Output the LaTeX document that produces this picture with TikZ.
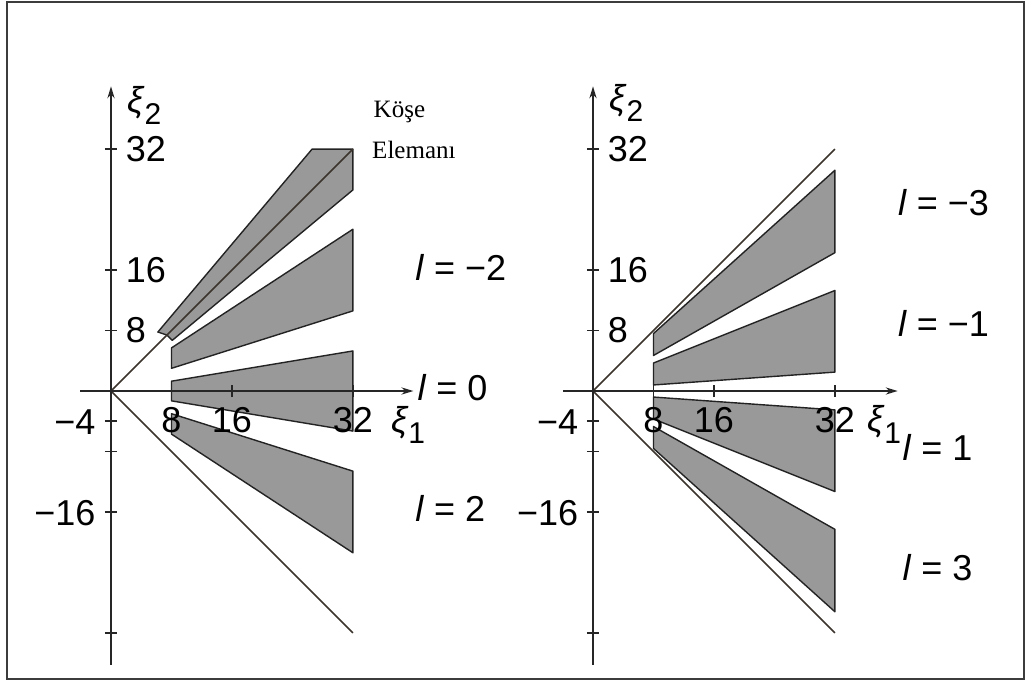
\documentclass[tikz,border=0pt]{standalone}
\usepackage{fontspec}
\setmainfont{Liberation Sans}
\newfontfamily\serifface{Liberation Serif}
\usetikzlibrary{arrows.meta}
\definecolor{wedgegray}{RGB}{153, 153, 153}
\definecolor{edgedark}{RGB}{35, 35, 35}
\definecolor{conecolor}{RGB}{60, 52, 44}
\definecolor{framegray}{RGB}{60, 60, 60}

\newcommand{\xisub}[1]{\textit{ξ}\raisebox{-0.32em}{\fontsize{15}{15}\selectfont #1}}

\tikzset{
  wedge/.style={fill=wedgegray, draw=edgedark, line width=0.7pt, line join=round},
  cone/.style={draw=conecolor, line width=0.8pt},
  axis/.style={draw=black!85, line width=0.75pt},
  numlabel/.style={font=\fontsize{18}{18}\selectfont, inner sep=0pt},
  llabel/.style={font=\fontsize{18}{18}\selectfont, anchor=west, inner sep=0pt},
  notelabel/.style={font=\serifface\fontsize{12.5}{12.5}\selectfont, anchor=base west, inner sep=0pt}
}

\begin{document}
\begin{tikzpicture}[x=0.5pt, y=0.5pt, >={Stealth[length=6pt, width=3.6pt]}]

  \useasboundingbox (0,0) rectangle (1027,682);
  \draw[framegray, line width=1.2pt] (7,3) rectangle (1024,680);

  % --- Left panel ---
  \begin{scope}[shift={(111,291)}, x=3.78pt, y=3.78pt]
    % wedges
    \filldraw[wedge] (6.2,7.8) -- (26.6,32) -- (32,32) -- (32,26.6) -- (8.1,6.7) -- (7.4,7.4) -- cycle;
    \filldraw[wedge] (8,5.7) -- (32,21.4) -- (32,10.6) -- (8,3.0) -- cycle;
    \filldraw[wedge] (8,1.3) -- (32,5.3) -- (32,-5.3) -- (8,-1.3) -- cycle;
    \filldraw[wedge] (8,-3.0) -- (32,-10.6) -- (32,-21.4) -- (8,-5.7) -- cycle;

    % cone lines
    \draw[cone] (0,0) -- (32,32);
    \draw[cone] (0,0) -- (32,-32);

    % axes
    \draw[axis, ->] (-4.1,0) -- (40,0);
    \draw[axis, ->] (0,-36.2) -- (0,40.3);
    \foreach \t in {8,16,32}
      \draw[axis] (\t,-0.8) -- (\t,0.8);
    \foreach \t in {32,16,8,-4,-8,-16,-32}
      \draw[axis] (-0.8,\t) -- (0.8,\t);

    % tick labels
    \foreach \t in {8,16,32} {
      \node[numlabel, anchor=west] (L-y\t) at (1.9,\t) {\t};
      \node[numlabel] (L-x\t) at (\t,-3.85) {\t};
    }
    \node[numlabel, anchor=east] (L-ym4) at (-2,-4.1) {−4};
    \node[numlabel, anchor=east] (L-ym16) at (-2,-16.1) {−16};

    % axis names
    \node[numlabel] (L-xi1) at (39.3,-4.5) {\xisub{1}};
    \node[numlabel] (L-xi2) at (4.4,37.8) {\xisub{2}};

    % band labels
    \node[llabel] (L-lm2) at (40.2,16.4) {\textit{l} = −2};
    \node[llabel] (L-l0) at (40.5,0.5) {\textit{l} = 0};
    \node[llabel] (L-l2) at (40.2,-15.5) {\textit{l} = 2};

    % corner element note
    \node[notelabel] (L-kose) at (34.7,36.2) {Köşe};
    \node[notelabel] (L-eleman) at (34.5,30.7) {Elemanı};
  \end{scope}

  % --- Right panel ---
  \begin{scope}[shift={(593,291)}, x=3.78pt, y=3.78pt]
    % wedges
    \filldraw[wedge] (8,7.6) -- (32,29.2) -- (32,18.3) -- (8,4.7) -- cycle;
    \filldraw[wedge] (8,3.7) -- (32,13.3) -- (32,2.5) -- (8,0.8) -- cycle;
    \filldraw[wedge] (8,-0.8) -- (32,-2.5) -- (32,-13.3) -- (8,-3.7) -- cycle;
    \filldraw[wedge] (8,-4.7) -- (32,-18.3) -- (32,-29.2) -- (8,-7.6) -- cycle;

    % cone lines
    \draw[cone] (0,0) -- (32,32);
    \draw[cone] (0,0) -- (32,-32);

    % axes
    \draw[axis, ->] (-4,0) -- (40.3,0);
    \draw[axis, ->] (0,-36.2) -- (0,40.3);
    \foreach \t in {8,16,32}
      \draw[axis] (\t,-0.8) -- (\t,0.8);
    \foreach \t in {32,16,8,-4,-8,-16,-32}
      \draw[axis] (-0.8,\t) -- (0.8,\t);

    % tick labels
    \foreach \t in {8,16,32} {
      \node[numlabel, anchor=west] (R-y\t) at (1.9,\t) {\t};
      \node[numlabel] (R-x\t) at (\t,-3.85) {\t};
    }
    \node[numlabel, anchor=east] (R-ym4) at (-1.9,-4.1) {−4};
    \node[numlabel, anchor=east] (R-ym16) at (-1.9,-16.1) {−16};

    % axis names
    \node[numlabel] (R-xi1) at (38.5,-4.4) {\xisub{1}};
    \node[numlabel] (R-xi2) at (4.4,38.1) {\xisub{2}};

    % band labels
    \node[llabel] (R-lm3) at (40.3,24.9) {\textit{l} = −3};
    \node[llabel] (R-lm1) at (40.3,9.0) {\textit{l} = −1};
    \node[llabel] (R-l1) at (40.9,-7.5) {\textit{l} = 1};
    \node[llabel] (R-l3) at (40.9,-23.4) {\textit{l} = 3};
  \end{scope}

\end{tikzpicture}
\end{document}
